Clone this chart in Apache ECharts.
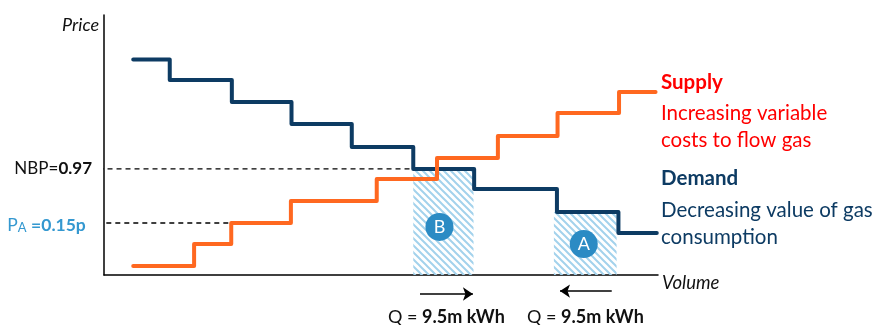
<!DOCTYPE html>
<html><head><meta charset="utf-8">
<script src="https://cdn.jsdelivr.net/npm/echarts@6/dist/echarts.min.js"></script>
<style>html,body{margin:0;padding:0;background:#fff}#c{width:877px;height:325px}</style>
</head><body><div id="c"></div>
<script>
// ---- data (abstract volume / price units) ----
const demandX = [0.48, 1.08, 2.10, 3.08, 4.07, 5.08, 6.08, 7.44, 8.45, 9.08];
const demandPrice = [8.29, 7.50, 6.65, 5.81, 4.92, 4.08, 3.31, 2.42, 1.62];
const supplyX = [0.48, 1.48, 2.09, 3.07, 4.48, 5.47, 6.47, 7.45, 8.46, 9.06];
const supplyPrice = [0.35, 1.19, 2.00, 2.85, 3.69, 4.50, 5.35, 6.23, 7.04];
const hatchStart = [5.08, 7.39];
const hatchEnd = [6.07, 8.42];
const hatchTop = [4.08, 2.42];
const circleNames = ['B', 'A'];
const circleX = [5.51, 7.88];
const circleY = [1.85, 1.19];
const refNames = ['NBP', 'PA'];
const refLevel = [4.08, 2.00];
const refStart = [-0.09, -0.11];
const refEnd = [5.35, 2.09];
const arrowFrom = [[5.19, -0.73], [8.34, -0.62]];
const arrowTo = [[6.06, -0.73], [7.49, -0.62]];
const qLabels = ['Q = {b|9.5m kWh}', 'Q = {b|9.5m kWh}'];

const FONT = 'Lato, "Open Sans", sans-serif';
const NAVY = '#0d3b63', ORANGE = '#ff6820', BLUE = '#3498d0';

function stepData(xs, ps) {
  const d = xs.slice(0, ps.length).map((x, i) => [x, ps[i]]);
  d.push([xs[xs.length - 1], ps[ps.length - 1]]);
  return d;
}

// hatch pattern
const pc = document.createElement('canvas');
pc.width = 7; pc.height = 7;
const g = pc.getContext('2d');
g.strokeStyle = '#a3d2ec'; g.lineWidth = 2;
g.beginPath();
for (let k = -1; k <= 1; k++) { g.moveTo(-1, -1 + 7 * k); g.lineTo(8, 8 + 7 * k); }
g.stroke();

const refLabel = [
  { formatter: 'NBP={b|0.97}', distance: 6, color: '#111', size: 17,
    rich: { b: { fontWeight: 'bold', fontSize: 17, fontFamily: FONT, color: '#111' } } },
  { formatter: '{p|P}{sub|A}{p| }{b|=0.15p}', distance: 11, color: BLUE, size: 17,
    rich: {
      p: { fontSize: 17.5, fontFamily: FONT, color: BLUE, lineHeight: 22, verticalAlign: 'bottom' },
      sub: { fontSize: 13, fontFamily: FONT, color: BLUE, lineHeight: 8, verticalAlign: 'bottom' },
      b: { fontSize: 17.5, fontFamily: FONT, color: BLUE, fontWeight: 'bold', lineHeight: 22, verticalAlign: 'bottom' }
    } }
];

const chart = echarts.init(document.getElementById('c'));
chart.setOption({
  animation: false,
  grid: { left: 104, top: 15, width: 554, height: 260, containLabel: false },
  xAxis: { type: 'value', min: 0, max: 9.1, axisLine: { show: true, lineStyle: { color: '#000', width: 1.5 } },
    axisTick: { show: false }, axisLabel: { show: false }, splitLine: { show: false } },
  yAxis: { type: 'value', min: 0, max: 10, axisLine: { show: true, lineStyle: { color: '#000', width: 1.5 } },
    axisTick: { show: false }, axisLabel: { show: false }, splitLine: { show: false } },
  series: [
    {
      type: 'custom', z: 1,
      data: hatchStart.map((s, i) => [s, hatchEnd[i], hatchTop[i]]),
      encode: { x: [0, 1], y: 2 },
      renderItem: function (params, api) {
        const p0 = api.coord([api.value(0), api.value(2)]);
        const p1 = api.coord([api.value(1), 0]);
        return { type: 'rect', shape: { x: p0[0], y: p0[1], width: p1[0] - p0[0], height: p1[1] - p0[1] },
          style: { fill: { image: pc, repeat: 'repeat' } } };
      }
    },
    ...refNames.map((n, i) => ({
      type: 'line', z: 2, clip: false, symbol: 'circle', symbolSize: 1, showSymbol: true,
      itemStyle: { color: 'rgba(0,0,0,0)' },
      lineStyle: { color: '#000', width: 1.3, type: [5, 4] },
      data: [
        { value: [refStart[i], refLevel[i]],
          label: { show: true, position: 'left', distance: refLabel[i].distance,
            formatter: refLabel[i].formatter, fontFamily: FONT, fontSize: refLabel[i].size, color: refLabel[i].color,
            rich: refLabel[i].rich } },
        [refEnd[i], refLevel[i]]
      ]
    })),
    {
      type: 'line', z: 3, step: 'end', symbol: 'none',
      lineStyle: { color: NAVY, width: 4, cap: 'round', join: 'round' },
      data: stepData(demandX, demandPrice)
    },
    {
      type: 'line', z: 4, step: 'end', symbol: 'none',
      lineStyle: { color: ORANGE, width: 4, cap: 'round', join: 'round' },
      data: stepData(supplyX, supplyPrice)
    },
    {
      type: 'scatter', z: 5, symbolSize: 28,
      itemStyle: { color: '#2b8bc4', opacity: 1 },
      data: circleNames.map((n, i) => [circleX[i], circleY[i], n]),
      label: { show: true, position: 'inside', formatter: p => p.value[2], color: '#fff', fontSize: 18, fontFamily: FONT }
    },
    {
      type: 'lines', coordinateSystem: 'cartesian2d', clip: false, z: 6, polyline: false,
      symbol: ['none', 'arrow'], symbolSize: 10,
      lineStyle: { color: '#000', width: 1.5, opacity: 1 },
      data: arrowFrom.map((f, i) => ({ coords: [f, arrowTo[i]] }))
    }
  ],
  graphic: [
    { type: 'text', x: 99, y: 25, style: { text: 'Price', fontFamily: FONT, fontStyle: 'italic', fontSize: 18, fill: '#111', align: 'right', verticalAlign: 'middle' } },
    { type: 'text', x: 662, y: 283, style: { text: 'Volume', fontFamily: FONT, fontStyle: 'italic', fontSize: 18.5, fill: '#111', align: 'left', verticalAlign: 'middle' } },
    ...qLabels.map((t, i) => ({ type: 'text', x: [388, 527][i], y: 317,
      style: { text: t, fontFamily: FONT, fontSize: 18, fill: '#111', verticalAlign: 'middle',
        rich: { b: { fontFamily: FONT, fontSize: 18, fontWeight: 'bold', fill: '#111' } } } })),
    { type: 'text', x: 661, y: 82, style: { text: 'Supply', fontFamily: FONT, fontSize: 20.5, fontWeight: 'bold', fill: '#ff0000', verticalAlign: 'middle' } },
    { type: 'text', x: 661, y: 113, style: { text: 'Increasing variable', fontFamily: FONT, fontSize: 20.5, fill: '#ff0000', verticalAlign: 'middle' } },
    { type: 'text', x: 661, y: 140, style: { text: 'costs to flow gas', fontFamily: FONT, fontSize: 20.5, fill: '#ff0000', verticalAlign: 'middle' } },
    { type: 'text', x: 661, y: 178, style: { text: 'Demand', fontFamily: FONT, fontSize: 20.5, fontWeight: 'bold', fill: NAVY, verticalAlign: 'middle' } },
    { type: 'text', x: 661, y: 210, style: { text: 'Decreasing value of gas', fontFamily: FONT, fontSize: 20.5, fill: NAVY, verticalAlign: 'middle' } },
    { type: 'text', x: 661, y: 237, style: { text: 'consumption', fontFamily: FONT, fontSize: 20.5, fill: NAVY, verticalAlign: 'middle' } }
  ]
});
</script>
</body></html>
